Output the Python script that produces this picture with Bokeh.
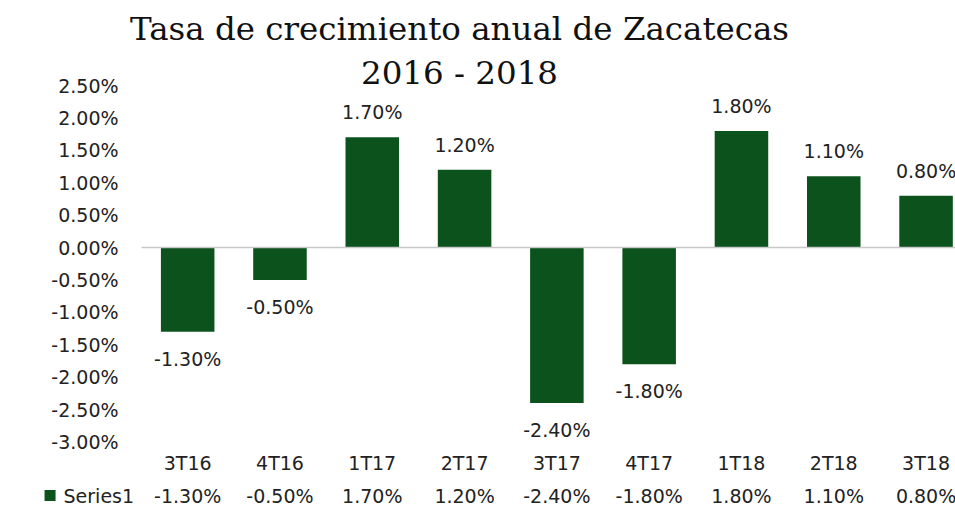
from bokeh.plotting import figure
from bokeh.models import ColumnDataSource, Label, Range1d
from bokeh.core.properties import value
from bokeh.embed import file_html
from bokeh.resources import INLINE

categories = ["3T16", "4T16", "1T17", "2T17", "3T17", "4T17", "1T18", "2T18", "3T18"]
series1 = [-1.30, -0.50, 1.70, 1.20, -2.40, -1.80, 1.80, 1.10, 0.80]
y_ticks = [-3.0, -2.5, -2.0, -1.5, -1.0, -0.5, 0.0, 0.5, 1.0, 1.5, 2.0, 2.5]
title_lines = ["Tasa de crecimiento anual de Zacatecas", "2016 - 2018"]
series_name = "Series1"

GREEN = "#0c521c"
FONT = "DejaVu Sans"
TXT = "#222222"
FS = "19px"

xs = list(range(len(categories)))
labels = [f"{v:.2f}%" for v in series1]
offsets = [-25 if v >= 0 else 27 for v in series1]
src = ColumnDataSource(dict(x=xs, top=series1, lab=labels, off=offsets, cat=categories))

# plot area: x = -0.5 at px 141, 92.3 px per category; y = 0 at px 247, 64.8 px per 1%
p = figure(width=955, height=507, output_backend="svg", toolbar_location=None,
           x_range=Range1d(-2.028, 8.319), y_range=Range1d(-4.012, 3.812),
           x_axis_type=None, y_axis_type=None,
           min_border_left=0, min_border_right=0, min_border_top=0, min_border_bottom=0)
p.outline_line_color = None
p.grid.visible = False
p.background_fill_color = "white"

# bars + baseline
p.vbar(x="x", top="top", bottom=0, width=0.58, source=src, fill_color=GREEN, line_color=None)
p.segment(x0=-0.5, y0=0, x1=8.319, y1=0, line_color="#c8c8c8", line_width=1.5)

# data labels
p.text(x="x", y="top", text="lab", y_offset="off", source=src, text_align="center",
       text_baseline="middle", text_font=value(FONT), text_font_size=FS, text_color=TXT)

# value axis labels
ysrc = ColumnDataSource(dict(y=y_ticks, t=[f"{v:.2f}%" for v in y_ticks]))
p.text(x=-0.749, y="y", text="t", source=ysrc, text_align="right", text_baseline="middle",
       text_font=value(FONT), text_font_size=FS, text_color=TXT)

# category axis labels
p.text(x="x", y=-3.318, text="cat", source=src, text_align="center", text_baseline="middle",
       text_font=value(FONT), text_font_size=FS, text_color=TXT)

# data table row
ROW_Y = -3.827
p.text(x="x", y=ROW_Y, text="lab", source=src, text_align="center", text_baseline="middle",
       text_font=value(FONT), text_font_size=FS, text_color=TXT)
p.scatter(x=[-1.491], y=[ROW_Y], marker="square", size=11, fill_color=GREEN, line_color=None)
p.text(x=[-1.345], y=[ROW_Y], text=[series_name], text_align="left", text_baseline="middle",
       text_font=value(FONT), text_font_size=FS, text_color=TXT)

# title
p.add_layout(Label(x=459, y=479, x_units="screen", y_units="screen", text=title_lines[0],
                   text_align="center", text_baseline="alphabetic",
                   text_font="DejaVu Serif", text_font_size="32.5px", text_color="#111111"))
p.add_layout(Label(x=459, y=435, x_units="screen", y_units="screen", text=title_lines[1],
                   text_align="center", text_baseline="alphabetic",
                   text_font="DejaVu Serif", text_font_size="32.5px", text_color="#111111"))

open("out.html", "w").write(file_html(p, INLINE))
